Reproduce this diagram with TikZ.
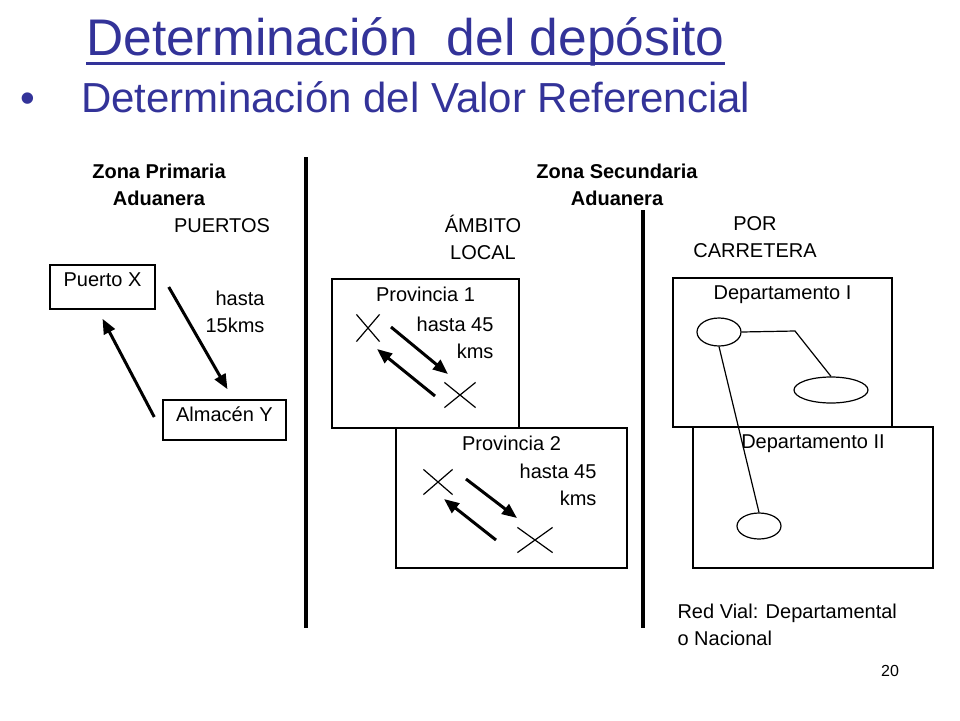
\documentclass[tikz,border=0pt]{standalone}
\usepackage{fontspec}
\setmainfont{Liberation Sans}
\usepackage{tikz}
\usetikzlibrary{positioning}
\usetikzlibrary{arrows.meta}
\usetikzlibrary{shapes.geometric,shapes.misc}
\definecolor{titleblue}{RGB}{51,51,153}

\begin{document}
\begin{tikzpicture}
        [x=1pt,y=-1pt,
         txt/.style={font=\fontsize{20}{27}\selectfont},
         box/.style={draw, line width=1.5pt, inner sep=0pt},
         arr/.style={line width=3pt, -{Triangle[length=15pt,width=12pt]}},
         town/.style={draw, cross out, line width=1.2pt, inner sep=0pt},
         city/.style={draw, ellipse, line width=1.2pt, inner sep=0pt},
         road/.style={line width=1.2pt},
         sep/.style={line width=4pt}]
      \useasboundingbox (0,0) rectangle (960,720);
      % titles
      \node[anchor=base west, inner sep=0pt, text=titleblue, font=\fontsize{51.5}{60}\selectfont] (title) at (86,55) {Determinación\ \ del depósito};
      \draw[titleblue, line width=3pt] ([shift={(0,8)}]title.base west) -- ([shift={(0,8)}]title.base east);
      \node[anchor=base west, inner sep=0pt, text=titleblue, font=\fontsize{42}{50}\selectfont] (bullet) at (20,112) {•};
      \node[anchor=base west, inner sep=0pt, text=titleblue, font=\fontsize{42}{50}\selectfont] (sub) at (81,112) {Determinación del Valor Referencial};
      % zone headings
      \node[txt, align=center, font=\fontsize{20}{27}\selectfont\bfseries] (zp) at (159,185) {Zona Primaria\\Aduanera};
      \node[txt, align=center, font=\fontsize{20}{27}\selectfont\bfseries] (zs) at (617,185) {Zona Secundaria\\Aduanera};
      \node[txt] (puertos) at (222,226) {PUERTOS};
      \node[txt, align=center] (ambito) at (483,237) {ÁMBITO\\LOCAL};
      \node[txt, align=center] (carretera) at (755,237) {POR\\CARRETERA};
      \draw[sep] (306,157) -- (306,628);
      \draw[sep] (643,210) -- (643,628);
      % puertos
      \node[box, minimum width=105pt, minimum height=44pt] (px) at (102.5,287) {};
      \node[txt, below=5pt of px.north] (pxl) {Puerto X};
      \node[box, minimum width=123pt, minimum height=40pt] (alm) at (224.5,420) {};
      \node[txt, below=4pt of alm.north] (alml) {Almacén Y};
      \node[txt, align=right, anchor=east] (h15) at (268,312) {hasta\\15kms};
      \draw[arr] ([shift={(13,0)}]px.east) -- ([shift={(3,-10)}]alm.north);
      \draw[arr] ([shift={(-8,-3)}]alm.west) -- ([shift={(0,9)}]px.south);
      % provincias
      \node[box, minimum width=187pt, minimum height=149pt] (prov1) at (425.5,353.5) {};
      \node[txt, below=5pt of prov1.north] (prov1l) {Provincia 1};
      \node[box, minimum width=231pt, minimum height=140pt] (prov2) at (511.5,498) {};
      \node[txt, below=5pt of prov2.north] (prov2l) {Provincia 2};
      \node[txt, align=right, anchor=east] (h45a) at (497,338) {hasta 45\\kms};
      \node[txt, align=right, anchor=east] (h45b) at (600,485) {hasta 45\\kms};
      \node[town, minimum width=22pt, minimum height=26pt] (c1) at (368,328) {};
      \node[town, minimum width=30pt, minimum height=24pt] (c2) at (460,395) {};
      \node[town, minimum width=28pt, minimum height=24pt] (c3) at (438,482) {};
      \node[town, minimum width=34pt, minimum height=24pt] (c4) at (535,540) {};
      \draw[arr] ([shift={(23,-1)}]c1.center) -- ([shift={(-12,-21)}]c2.center);
      \draw[arr] ([shift={(-25,1)}]c2.center) -- ([shift={(9,21)}]c1.center);
      \draw[arr] ([shift={(28,-3)}]c3.center) -- ([shift={(-18,-22)}]c4.center);
      \draw[arr] ([shift={(-39,0)}]c4.center) -- ([shift={(6,17)}]c3.center);
      % departamentos
      \node[box, minimum width=219pt, minimum height=149pt] (dep1) at (782.5,352.5) {};
      \node[txt, below=5pt of dep1.north] (dep1l) {Departamento I};
      \node[box, minimum width=240pt, minimum height=141pt] (dep2) at (813,497.5) {};
      \node[txt, below=5pt of dep2.north] (dep2l) {Departamento II};
      \node[city, minimum width=44pt, minimum height=28pt] (ea) at (719,332) {};
      \node[city, minimum width=74pt, minimum height=26pt] (eb) at (831,390) {};
      \node[city, minimum width=44pt, minimum height=26pt] (ec) at (759,526) {};
      \coordinate (bend) at (795,331);
      \draw[road] (ea.east) -- (bend) -- (eb.north);
      \draw[road] (ea.south) -- (ec.north);
      \node[txt, align=left, anchor=west] (red) at (674,625) {Red Vial: Departamental\\o Nacional};
      \node[font=\fontsize{16}{20}\selectfont] (num) at (890,671) {20};
\end{tikzpicture}
\end{document}
